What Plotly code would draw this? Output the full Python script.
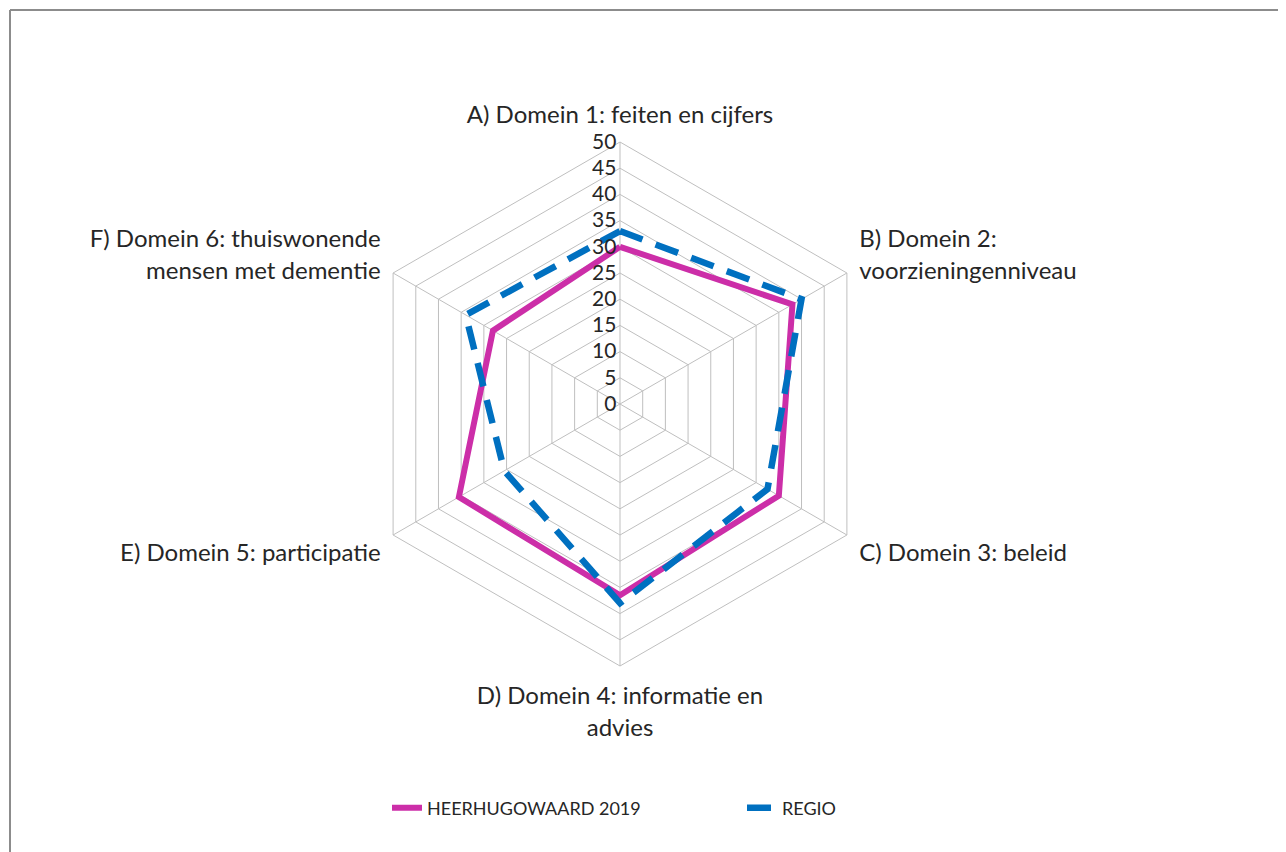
import plotly.graph_objects as go

categories = [
    "A) Domein 1: feiten en cijfers",
    "B) Domein 2:<br>voorzieningenniveau",
    "C) Domein 3: beleid",
    "D) Domein 4: informatie en<br>advies",
    "E) Domein 5: participatie",
    "F) Domein 6: thuiswonende<br>mensen met dementie",
]
heerhugowaard_2019 = [30, 38, 35, 36.5, 35.5, 28]
regio = [33, 40, 32.5, 38, 25.5, 34]
radial_ticks = [0, 5, 10, 15, 20, 25, 30, 35, 40, 45, 50]

W, H = 1286, 852
FONT = "Lato"

def closed(vals):
    return list(vals) + [vals[0]]

fig = go.Figure()
fig.add_trace(go.Scatterpolar(
    r=closed(heerhugowaard_2019), theta=closed(categories), mode="lines",
    name="HEERHUGOWAARD 2019",
    line=dict(color="#CC2EA8", width=6),
))
fig.add_trace(go.Scatterpolar(
    r=closed(regio), theta=closed(categories), mode="lines",
    name="REGIO",
    line=dict(color="#0070C0", width=6.5, dash="24px,14px"),
))

# page body adds an 8px offset, so positions below are in figure px
cx, cy, rad = 612, 396, 262
fig.update_layout(
    width=W, height=H,
    margin=dict(l=0, r=0, t=0, b=0),
    paper_bgcolor="white",
    font=dict(family=FONT, size=19, color="#262626"),
    polar=dict(
        domain=dict(x=[(cx - rad) / W, (cx + rad) / W],
                    y=[1 - (cy + rad) / H, 1 - (cy - rad) / H]),
        gridshape="linear",
        bgcolor="white",
        radialaxis=dict(
            range=[0, 50], tickvals=radial_ticks, angle=90, tickangle=90,
            side="counterclockwise", showline=False, ticks="",
            gridcolor="#BFBFBF", gridwidth=1,
            tickfont=dict(family=FONT, size=21, color="#262626"),
        ),
        angularaxis=dict(
            rotation=90, direction="clockwise", type="category",
            categoryarray=categories,
            showline=True, linecolor="#BFBFBF", linewidth=1,
            gridcolor="#BFBFBF", gridwidth=1,
            ticks="outside", ticklen=9, tickcolor="rgba(0,0,0,0)",
            tickfont=dict(family=FONT, size=24, color="#262626"),
        ),
    ),
    legend=dict(
        orientation="h", x=734 / W, xanchor="center", y=1 - 800 / H, yanchor="middle",
        font=dict(family=FONT, size=18, color="#262626"),
        entrywidth=310, traceorder="normal",
    ),
    shapes=[
        dict(type="line", xref="paper", yref="paper", x0=2 / W, x1=1.0,
             y0=1 - 2 / H, y1=1 - 2 / H, line=dict(color="#8C8C8C", width=2)),
        dict(type="line", xref="paper", yref="paper", x0=2 / W, x1=2 / W,
             y0=0, y1=1 - 2 / H, line=dict(color="#8C8C8C", width=2)),
    ],
)

fig.write_html("out.html")
